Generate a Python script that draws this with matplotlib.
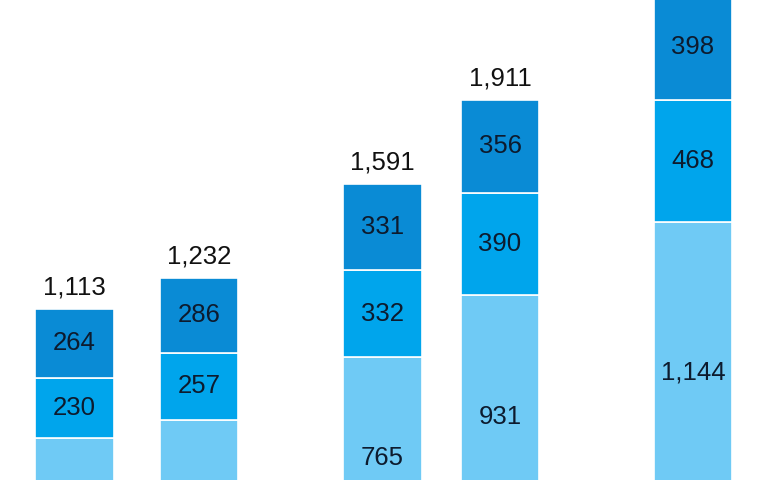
import matplotlib
matplotlib.use("Agg")
import matplotlib.pyplot as plt

# ---- data ----
totals = [1113, 1232, 1591, 1911, 2310]
seg_bottom = [0, 0, 163, 234, 300]          # hidden (cropped) base segment
seg_light = [619, 689, 765, 931, 1144]
seg_mid = [230, 257, 332, 390, 468]
seg_dark = [264, 286, 331, 356, 398]
total_labels = ["1,113", "1,232", "1,591", "1,911", "2,310"]

# ---- layout ----
x_pos = [0, 1, 2.474, 3.418, 4.968]
bar_w = 0.63
colors = {"bottom": "#5fc2f0", "light": "#6fcaf5", "mid": "#00a5ec", "dark": "#0a8bd5"}
plt.rcParams["font.family"] = ["Liberation Sans", "DejaVu Sans"]

fig = plt.figure(figsize=(7.67, 4.8), dpi=100)
ax = fig.add_axes([0, 0, 1, 1])

def fmt(v):
    return f"{v:,}"

series = [(seg_bottom, "bottom", False), (seg_light, "light", True),
          (seg_mid, "mid", True), (seg_dark, "dark", True)]
base = [0] * len(x_pos)
ymin, ymax = 460, 2292
for vals, key, lab in series:
    ax.bar(x_pos, vals, bottom=base, width=bar_w, color=colors[key],
           edgecolor="white", linewidth=1.2)
    if lab:
        for x, b, v in zip(x_pos, base, vals):
            yc = b + v / 2
            if v > 0 and yc > ymin:
                ax.text(x, yc, fmt(v), ha="center", va="center",
                        fontsize=18.5, color="#0d1b2e", clip_on=True)
    base = [b + v for b, v in zip(base, vals)]

for x, t, lab in zip(x_pos, totals, total_labels):
    ax.annotate(lab, (x, t), xytext=(0, 10.5), textcoords="offset points",
                ha="center", va="baseline", fontsize=18.5, color="#111111",
                annotation_clip=True)

ax.set_xlim(-0.598, 5.562)
ax.set_ylim(ymin, ymax)
ax.axis("off")
fig.savefig("out.png", dpi=100)
